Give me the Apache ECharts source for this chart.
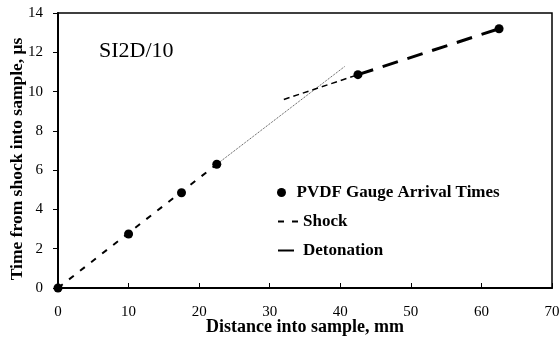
<!DOCTYPE html>
<html><head><meta charset="utf-8">
<script src="https://cdn.jsdelivr.net/npm/echarts@6/dist/echarts.min.js"></script>
<style>html,body{margin:0;padding:0;background:#fff}#c{width:559px;height:339px}</style>
</head><body><div id="c"></div>
<script>
var gaugeX = [0, 10, 17.5, 22.5, 42.5, 62.5];
var gaugeY = [0, 2.75, 4.85, 6.3, 10.86, 13.2];
var shockX = [0, 22.5];
var shockY = [0, 6.3];
var shockExtX = [22.5, 40.6];
var shockExtY = [6.3, 11.27];
var detExtX = [32, 42.5];
var detExtY = [9.6, 10.86];
var detX = [42.5, 62.5];
var detY = [10.86, 13.2];
var xTicks = [0, 10, 20, 30, 40, 50, 60, 70];
var yTicks = [0, 2, 4, 6, 8, 10, 12, 14];
var xTitle = 'Distance into sample, mm';
var yTitle = 'Time from shock into sample, \u03bcs';

function pairs(xs, ys){ return xs.map(function(x,i){return [x, ys[i]];}); }
var F = 'Liberation Serif';
var legendText = {fontFamily: F, fontSize: 17, fontWeight: 'bold', color: '#000'};
var chart = echarts.init(document.getElementById('c'));
chart.setOption({
  animation: false,
  textStyle: {fontFamily: F},
  grid: {left: 58, right: 7, top: 13, bottom: 51, show: true, borderColor: '#000', borderWidth: 1.5,
    containLabel: false, outerBoundsMode: 'none'},
  title: {text: 'SI2D/10', left: 94, top: 35, textStyle: {fontFamily: F, fontSize: 22, fontWeight: 'normal', color: '#000'}},
  graphic: [
    {type: 'text', x: 305, y: 327, style: {text: xTitle, font: 'bold 18px "Liberation Serif"', fill: '#000', align: 'center', verticalAlign: 'middle'}},
    {type: 'text', x: 17.5, y: 159, rotation: Math.PI / 2, style: {text: yTitle, font: 'bold 17.5px "Liberation Serif"', fill: '#000', align: 'center', verticalAlign: 'middle'}}
  ],
  legend: [
    {orient: 'vertical', left: 272, top: 179, itemWidth: 20, itemHeight: 9,
      textStyle: legendText, data: [{name: 'PVDF Gauge Arrival Times', icon: 'circle'}]},
    {orient: 'vertical', left: 272, top: 208, itemWidth: 20, itemHeight: 14, itemGap: 12,
      textStyle: legendText,
      data: [{name: 'Shock', itemStyle: {opacity: 0}}, {name: 'Detonation', itemStyle: {opacity: 0}}]}
  ],
  xAxis: {
    type: 'value', min: 0, max: 70, interval: 10,
    axisLine: {show: true, onZero: false, lineStyle: {color: '#000', width: 2}},
    axisTick: {show: true, inside: true, length: 5, lineStyle: {color: '#000', width: 1}},
    axisLabel: {fontFamily: F, fontSize: 15, color: '#000', margin: 17,
      formatter: function(v){ return xTicks.indexOf(v) >= 0 ? String(v) : ''; }},
    splitLine: {show: false}
  },
  yAxis: {
    type: 'value', min: 0, max: 14, interval: 2,
    axisLine: {show: true, onZero: false, lineStyle: {color: '#000', width: 2}},
    axisTick: {show: true, inside: false, length: 5, lineStyle: {color: '#000', width: 1}},
    axisLabel: {fontFamily: F, fontSize: 15, color: '#000', margin: 15,
      formatter: function(v){ return yTicks.indexOf(v) >= 0 ? String(v) : ''; }},
    splitLine: {show: false}
  },
  series: [
    {name: 'Shock', type: 'line', data: pairs(shockX, shockY), symbol: 'none',
      itemStyle: {color: '#000'},
      lineStyle: {color: '#000', width: 2, type: [6, 8]}, z: 2},
    {name: 'shockExt', type: 'line', data: pairs(shockExtX, shockExtY), symbol: 'none',
      lineStyle: {color: '#444', width: 1, type: [1, 1]}, z: 2},
    {name: 'detExt', type: 'line', data: pairs(detExtX, detExtY), symbol: 'none',
      lineStyle: {color: '#000', width: 1.5, type: [6, 4]}, z: 2},
    {name: 'Detonation', type: 'line', data: pairs(detX, detY), symbol: 'none',
      itemStyle: {color: '#000'},
      lineStyle: {color: '#000', width: 3, type: [16, 10]}, z: 2},
    {name: 'PVDF Gauge Arrival Times', type: 'scatter', data: pairs(gaugeX, gaugeY),
      symbol: 'circle', symbolSize: 9, itemStyle: {color: '#000', opacity: 1}, z: 5, clip: false}
  ]
});
</script></body></html>
